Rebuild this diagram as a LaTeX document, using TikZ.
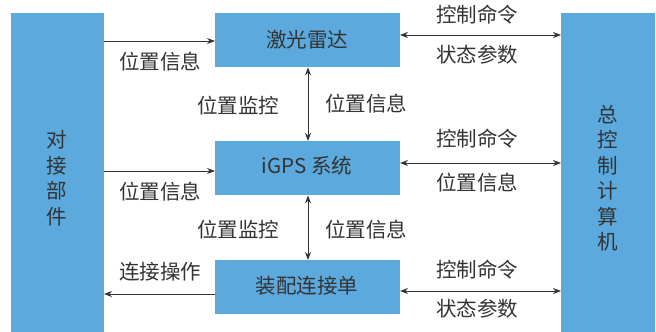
\documentclass[tikz,border=0pt]{standalone}
\usepackage{fontspec}
\setmainfont{Noto Sans CJK SC}
\usetikzlibrary{arrows.meta}
\definecolor{boxblue}{HTML}{5CA9DD}
\definecolor{txt}{HTML}{333333}
\begin{document}
\begin{tikzpicture}[x=1pt,y=-1pt,
  box/.style={fill=boxblue,draw=none,inner sep=0pt,text=txt},
  lbl/.style={text=txt,inner sep=0pt,font=\fontsize{20.5}{24}\selectfont},
  conn/.style={draw=txt,line width=1pt,-{Stealth[length=8pt,width=6pt]}},
  dconn/.style={draw=txt,line width=1pt,{Stealth[length=8pt,width=6pt]}-{Stealth[length=8pt,width=6pt]}},
  font=\fontsize{20.5}{24}\selectfont]
\useasboundingbox (0,0) rectangle (656,332);
% boxes
\node[box,minimum width=93pt,minimum height=319pt,anchor=north west] (dj) at (11,13) {};
\node[box,minimum width=94pt,minimum height=319pt,anchor=north west] (zk) at (561,13) {};
\node[box,minimum width=185pt,minimum height=54pt,anchor=north west] (jg) at (215,13) {};
\node[box,minimum width=185pt,minimum height=54pt,anchor=north west] (ig) at (215,141) {};
\node[box,minimum width=185pt,minimum height=54pt,anchor=north west] (zp) at (215,260) {};
\node[lbl] (jgt) at (307,40) {激光雷达};
\node[lbl] (igt) at (307,166) {iGPS 系统};
\node[lbl] (zpt) at (307,286) {装配连接单};
\node[lbl,align=center,font=\fontsize{20.5}{25.5}\selectfont] (djt) at (57,178) {对\\接\\部\\件};
\node[lbl,align=center,font=\fontsize{20.5}{25.5}\selectfont] (zkt) at (608,178) {总\\控\\制\\计\\算\\机};
% left arrows
\coordinate (a1) at (104,41); \coordinate (a1e) at (215,41);
\draw[conn] (a1) -- (a1e);
\node[lbl] (l1) at (160,62) {位置信息};
\coordinate (a2) at (104,171); \coordinate (a2e) at (215,171);
\draw[conn] (a2) -- (a2e);
\node[lbl] (l2) at (160,192) {位置信息};
\coordinate (a3) at (215,294); \coordinate (a3e) at (104,294);
\draw[conn] (a3) -- (a3e);
\node[lbl] (l3) at (160,272) {连接操作};
% vertical arrows
\draw[dconn] (jg.south -| 308,0) -- (ig.north -| 308,0);
\draw[dconn] (ig.south -| 308,0) -- (zp.north -| 308,0);
\node[lbl] (v1) at (238,106) {位置监控};
\node[lbl] (v2) at (366,104) {位置信息};
\node[lbl] (v3) at (238,230) {位置监控};
\node[lbl] (v4) at (366,230) {位置信息};
% right arrows
\coordinate (r1) at (400,35); \coordinate (r1e) at (561,35);
\draw[dconn] (r1) -- (r1e);
\node[lbl] (rl1) at (477,15) {控制命令};
\node[lbl] (rl2) at (477,55) {状态参数};
\coordinate (r2) at (400,163); \coordinate (r2e) at (561,163);
\draw[dconn] (r2) -- (r2e);
\node[lbl] (rl3) at (477,139) {控制命令};
\node[lbl] (rl4) at (477,183) {位置信息};
\coordinate (r3) at (400,291); \coordinate (r3e) at (561,291);
\draw[dconn] (r3) -- (r3e);
\node[lbl] (rl5) at (477,270) {控制命令};
\node[lbl] (rl6) at (477,309) {状态参数};
\end{tikzpicture}
\end{document}
